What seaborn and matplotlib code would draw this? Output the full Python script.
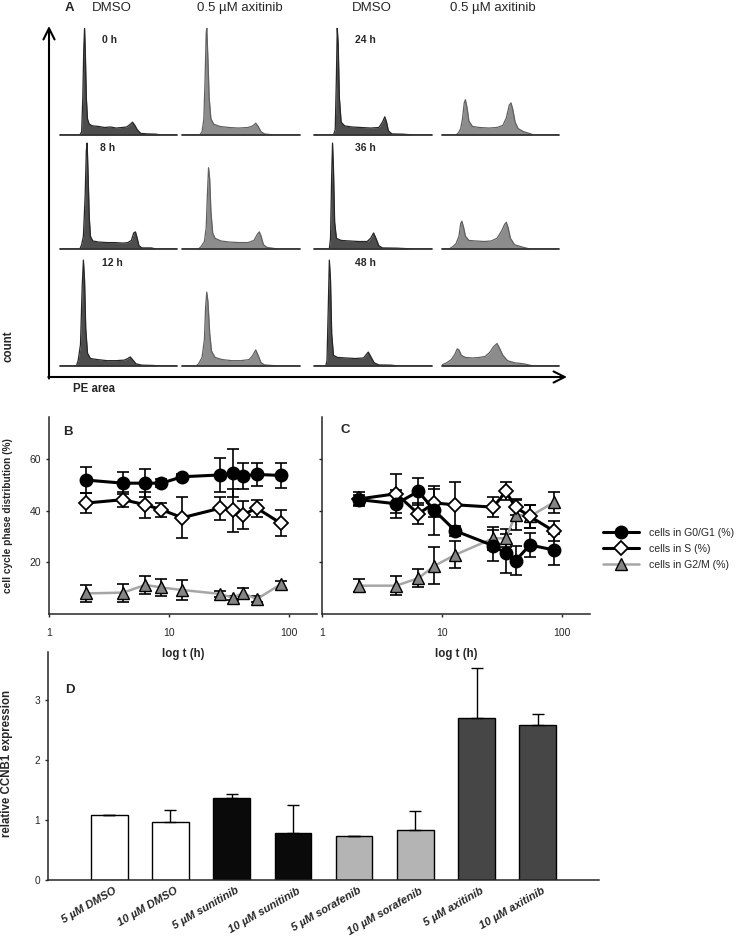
import numpy as np
import pandas as pd
import seaborn as sns
import matplotlib.pyplot as plt
from matplotlib.transforms import ScaledTranslation

W, H = 745, 940

# ---- panel A: flow histograms, outline points (rel. PE area, rel. count)
dmso_0h = [(0, 0), (0.17, 0), (0.185, 0.03), (0.195, 0.35), (0.203, 0.8), (0.21, 1.0), (0.217, 0.75),
           (0.225, 0.35), (0.235, 0.15), (0.25, 0.1), (0.28, 0.085), (0.33, 0.08), (0.38, 0.07),
           (0.43, 0.075), (0.48, 0.065), (0.53, 0.07), (0.57, 0.075), (0.6, 0.1), (0.62, 0.12),
           (0.64, 0.09), (0.66, 0.05), (0.69, 0.015), (0.75, 0.01), (0.82, 0.008), (0.86, 0), (1, 0)]
dmso_8h = [(0, 0), (0.17, 0), (0.185, 0.04), (0.2, 0.12), (0.215, 0.5), (0.225, 0.92), (0.232, 0.99),
           (0.24, 0.7), (0.25, 0.3), (0.26, 0.12), (0.28, 0.075), (0.33, 0.065), (0.4, 0.06),
           (0.47, 0.06), (0.54, 0.055), (0.58, 0.06), (0.61, 0.08), (0.63, 0.15), (0.645, 0.16),
           (0.66, 0.1), (0.675, 0.03), (0.7, 0.01), (0.78, 0.01), (0.82, 0), (1, 0)]
dmso_12h = [(0, 0), (0.14, 0), (0.155, 0.05), (0.175, 0.2), (0.19, 0.75), (0.2, 0.99), (0.21, 0.8),
            (0.22, 0.35), (0.235, 0.12), (0.26, 0.07), (0.32, 0.06), (0.4, 0.05), (0.48, 0.05),
            (0.55, 0.055), (0.58, 0.07), (0.6, 0.085), (0.62, 0.06), (0.65, 0.02), (0.7, 0.008),
            (0.8, 0.005), (0.85, 0), (1, 0)]
dmso_24h = [(0, 0), (0.165, 0), (0.18, 0.05), (0.19, 0.55), (0.197, 1.0), (0.205, 0.85), (0.215, 0.35),
            (0.23, 0.12), (0.26, 0.085), (0.32, 0.075), (0.4, 0.07), (0.48, 0.065), (0.55, 0.07),
            (0.58, 0.12), (0.6, 0.17), (0.615, 0.12), (0.63, 0.04), (0.66, 0.01), (0.75, 0.008),
            (0.85, 0), (1, 0)]
dmso_36h = [(0, 0), (0.13, 0), (0.14, 0.1), (0.15, 0.7), (0.157, 0.99), (0.165, 0.75), (0.175, 0.25),
            (0.19, 0.1), (0.23, 0.08), (0.3, 0.075), (0.38, 0.07), (0.45, 0.07), (0.48, 0.1),
            (0.505, 0.15), (0.525, 0.1), (0.55, 0.03), (0.58, 0.01), (0.7, 0.008), (0.85, 0), (1, 0)]
dmso_48h = [(0, 0), (0.1, 0), (0.11, 0.05), (0.12, 0.5), (0.13, 0.99), (0.14, 0.8), (0.15, 0.3),
            (0.165, 0.1), (0.2, 0.08), (0.27, 0.075), (0.35, 0.07), (0.42, 0.075), (0.445, 0.11),
            (0.46, 0.13), (0.48, 0.09), (0.51, 0.03), (0.55, 0.01), (0.65, 0.008), (0.72, 0), (1, 0)]
axi_0h = [(0, 0), (0.15, 0), (0.17, 0.03), (0.185, 0.15), (0.195, 0.5), (0.205, 0.95), (0.21, 1.0),
          (0.22, 0.7), (0.23, 0.35), (0.245, 0.15), (0.27, 0.1), (0.32, 0.08), (0.4, 0.07),
          (0.48, 0.065), (0.56, 0.07), (0.6, 0.085), (0.625, 0.11), (0.645, 0.08), (0.67, 0.03),
          (0.7, 0.01), (0.78, 0), (1, 0)]
axi_8h = [(0, 0), (0.14, 0), (0.16, 0.02), (0.19, 0.07), (0.205, 0.2), (0.215, 0.5), (0.225, 0.76),
          (0.235, 0.65), (0.245, 0.35), (0.26, 0.15), (0.28, 0.1), (0.33, 0.075), (0.4, 0.065),
          (0.48, 0.06), (0.56, 0.06), (0.61, 0.08), (0.64, 0.14), (0.655, 0.16), (0.67, 0.12),
          (0.69, 0.04), (0.72, 0.015), (0.78, 0.005), (0.82, 0), (1, 0)]
axi_12h = [(0, 0), (0.12, 0), (0.14, 0.02), (0.17, 0.08), (0.19, 0.25), (0.2, 0.55), (0.21, 0.69),
           (0.22, 0.6), (0.235, 0.3), (0.25, 0.14), (0.28, 0.08), (0.34, 0.06), (0.42, 0.05),
           (0.5, 0.05), (0.57, 0.06), (0.6, 0.1), (0.625, 0.15), (0.645, 0.1), (0.67, 0.03),
           (0.7, 0.01), (0.76, 0.005), (0.8, 0), (1, 0)]
axi_24h = [(0, 0), (0.12, 0), (0.14, 0.02), (0.16, 0.06), (0.175, 0.15), (0.19, 0.3), (0.2, 0.33),
           (0.215, 0.25), (0.23, 0.13), (0.26, 0.08), (0.32, 0.07), (0.4, 0.065), (0.47, 0.07),
           (0.52, 0.09), (0.55, 0.16), (0.575, 0.28), (0.59, 0.3), (0.605, 0.24), (0.625, 0.12),
           (0.65, 0.06), (0.7, 0.03), (0.76, 0.01), (0.78, 0), (1, 0)]
axi_36h = [(0, 0), (0.06, 0), (0.09, 0.02), (0.12, 0.05), (0.145, 0.12), (0.16, 0.24), (0.17, 0.26),
           (0.185, 0.2), (0.2, 0.12), (0.23, 0.08), (0.29, 0.075), (0.36, 0.07), (0.42, 0.075),
           (0.47, 0.1), (0.51, 0.17), (0.535, 0.23), (0.55, 0.25), (0.565, 0.2), (0.585, 0.1),
           (0.62, 0.04), (0.68, 0.02), (0.75, 0), (1, 0)]
axi_48h = [(0, 0.01), (0.04, 0.03), (0.08, 0.06), (0.11, 0.11), (0.13, 0.16), (0.145, 0.15),
           (0.165, 0.1), (0.2, 0.08), (0.26, 0.075), (0.32, 0.08), (0.37, 0.09), (0.41, 0.13),
           (0.44, 0.18), (0.47, 0.21), (0.49, 0.17), (0.52, 0.1), (0.56, 0.05), (0.62, 0.03),
           (0.7, 0.02), (0.78, 0), (1, 0)]

col_titles = ['DMSO', '0.5 µM axitinib', 'DMSO', '0.5 µM axitinib']
time_labels = ['0 h', '8 h', '12 h', '24 h', '36 h', '48 h']

# ---- panels B and C: time course (h) with mean and SD (%)
t_hours = [2.05, 4.15, 6.35, 8.65, 12.9, 26.8, 34, 41, 54, 85]
g1_b = [52, 50.8, 50.8, 50.8, 53.3, 54, 54.6, 53.6, 54.2, 53.8]
g1_b_sd = [5, 4.3, 5.5, 1.5, 1, 6.5, 9.3, 5, 4.6, 4.8]
s_b = [43.1, 44.4, 42.4, 40.5, 37.4, 41.1, 40.2, 38.5, 41.1, 35.3]
s_b_sd = [3.8, 3, 5, 2.7, 8, 4.5, 8.3, 5.3, 3.3, 5]
g2_b = [8.0, 8.3, 11.3, 10.3, 9.3, 7.8, 6.3, 8.1, 5.8, 11.5]
g2_b_sd = [3.3, 3.5, 3.4, 3.2, 3.9, 1.3, 0.8, 2.1, 1.3, 1.3]

g1_c = [44.4, 42.8, 47.6, 40.2, 32.3, 26.5, 23.6, 20.7, 26.8, 24.9]
g1_c_sd = [2, 5.5, 5.4, 9.4, 2, 6, 7.5, 5.6, 4.5, 6]
s_c = [44.7, 46.7, 38.9, 43.1, 42.4, 41.5, 47.6, 41.5, 37.9, 32.3]
s_c_sd = [2.8, 7.6, 4.1, 5.5, 9, 4, 3.5, 3, 4.5, 3.8]
g2_c = [11.0, 11.0, 13.9, 18.7, 23.0, 29.4, 29.4, 38.5, 37.9, 43.3]
g2_c_sd = [2.6, 3.7, 3.6, 7.2, 5.2, 4.5, 3.5, 5.7, 4.5, 4.2]

series_labels = ['cells in G0/G1 (%)', 'cells in S (%)', 'cells in G2/M (%)']

# ---- panel D: relative CCNB1 expression
treatments = ['5 µM DMSO', '10 µM DMSO', '5 µM sunitinib', '10 µM sunitinib',
              '5 µM sorafenib', '10 µM sorafenib', '5 µM axitinib', '10 µM axitinib']
ccnb1 = [1.08, 0.96, 1.37, 0.78, 0.73, 0.83, 2.70, 2.59]
ccnb1_err = [0, 0.21, 0.06, 0.47, 0.01, 0.32, 0.83, 0.17]
bar_colors = ['white', 'white', '#0a0a0a', '#0a0a0a', '#b4b4b4', '#b4b4b4', '#464646', '#464646']

sns.set_theme(style='ticks')
plt.rcParams['font.family'] = ['Liberation Sans', 'DejaVu Sans']
plt.rcParams['axes.linewidth'] = 1.1

fig = plt.figure(figsize=(W / 100, H / 100), dpi=100)


def box(x0, y0, x1, y1):
    return [x0 / W, 1 - y1 / H, (x1 - x0) / W, (y1 - y0) / H]


def ftext(x, y, s, **kw):
    fig.text(x / W, 1 - y / H, s, ha=kw.pop('ha', 'center'), va=kw.pop('va', 'center'), **kw)


# arrows of panel A
over = fig.add_axes([0, 0, 1, 1])
over.set_xlim(0, W)
over.set_ylim(H, 0)
over.axis('off')
over.annotate('', xy=(49, 26), xytext=(49, 378.5),
              arrowprops=dict(arrowstyle='->', lw=1.5, color='black', mutation_scale=20, shrinkA=0, shrinkB=0))
over.annotate('', xy=(567, 377), xytext=(48.3, 377),
              arrowprops=dict(arrowstyle='->', lw=1.5, color='black', mutation_scale=20, shrinkA=0, shrinkB=0))

hist_grid = [[dmso_0h, axi_0h, dmso_24h, axi_24h],
             [dmso_8h, axi_8h, dmso_36h, axi_36h],
             [dmso_12h, axi_12h, dmso_48h, axi_48h]]
col_x = [(60, 177), (182, 300), (314, 432), (442, 559)]
row_y = [(28, 135), (142, 249), (259, 366)]
fills = ['#4d4d4d', '#8c8c8c', '#4d4d4d', '#8c8c8c']
edges = ['#262626', '#606060', '#262626', '#606060']

for r, (y0, y1) in enumerate(row_y):
    for c, (x0, x1) in enumerate(col_x):
        ax = fig.add_axes(box(x0, y0, x1, y1))
        prof = hist_grid[r][c]
        xs = [p[0] for p in prof]
        ys = [p[1] for p in prof]
        ax.fill_between(xs, ys, 0, color=fills[c], lw=0)
        ax.plot(xs, ys, color=edges[c], lw=0.9)
        ax.axhline(0, color='#333333', lw=1.3, clip_on=False)
        ax.set_xlim(0, 1)
        ax.set_ylim(0, 1)
        ax.axis('off')

ftext(69, 8, 'A', fontsize=9.5, fontweight='bold')
for x, s in zip([112, 240, 372, 493], col_titles):
    ftext(x, 8, s, fontsize=9.5)
for (x, y), s in zip([(110, 40), (108, 148), (112, 263), (365, 40), (365, 148), (365, 263)], time_labels):
    ftext(x, y, s, fontsize=7.5, fontweight='bold')
ftext(9, 346, 'count', fontsize=8.3, fontweight='bold', rotation=90)
ftext(94, 389, 'PE area', fontsize=8.3, fontweight='bold')


# ---- panels B and C
def time_panel(ax, g1, g1_sd, s, s_sd, g2, g2_sd):
    err_kw = dict(fmt='none', ecolor='black', elinewidth=1.2, capsize=4.5, capthick=1.2)
    ax.errorbar(t_hours, g2, yerr=g2_sd, zorder=2, **err_kw)
    ax.errorbar(t_hours, s, yerr=s_sd, zorder=2, **err_kw)
    ax.errorbar(t_hours, g1, yerr=g1_sd, zorder=2, **err_kw)
    df = pd.DataFrame({'t': t_hours, 'g1': g1, 's': s, 'g2': g2})
    sns.lineplot(data=df, x='t', y='g2', ax=ax, color='#a6a6a6', lw=1.8, marker='^', ms=9,
                 markerfacecolor='#858585', markeredgecolor='black', markeredgewidth=1,
                 label=series_labels[2], zorder=3)
    sns.lineplot(data=df, x='t', y='s', ax=ax, color='black', lw=2.2, marker='D', ms=7.5,
                 markerfacecolor='white', markeredgecolor='black', markeredgewidth=1.3,
                 label=series_labels[1], zorder=4)
    sns.lineplot(data=df, x='t', y='g1', ax=ax, color='black', lw=2.2, marker='o', ms=9,
                 markerfacecolor='black', markeredgecolor='black', markeredgewidth=1,
                 label=series_labels[0], zorder=5)
    ax.set_xscale('log')
    ax.set_xlim(1, 10 ** (268 / 120))
    ax.set_ylim(0, 76.5)
    ax.set_xticks([1, 10, 100])
    ax.set_xticklabels(['1', '10', '100'])
    ax.minorticks_off()
    ax.set_yticks([20, 40, 60])
    ax.tick_params(axis='x', length=2.5, width=1, pad=7.5, labelsize=7.5)
    ax.tick_params(axis='y', length=2.5, width=1, pad=3, labelsize=7.5)
    ax.set_xlabel('log t (h)', fontsize=8.3, fontweight='bold', labelpad=7)
    ax.set_ylabel('')
    sns.despine(ax=ax)
    ax.set_facecolor('none')


ax_b = fig.add_axes(box(49, 417, 317, 614))
time_panel(ax_b, g1_b, g1_b_sd, s_b, s_b_sd, g2_b, g2_b_sd)
ax_b.set_ylabel('cell cycle phase distribution (%)', fontsize=7.3, fontweight='bold')
ax_b.yaxis.set_label_coords(-0.135, 0.5)
ax_b.get_legend().remove()

ax_c = fig.add_axes(box(322, 417, 590, 614))
time_panel(ax_c, g1_c, g1_c_sd, s_c, s_c_sd, g2_c, g2_c_sd)
ax_c.set_yticklabels([])
handles, labels = ax_c.get_legend_handles_labels()
ax_c.get_legend().remove()
order = [labels.index(l) for l in series_labels]
fig.legend([handles[i] for i in order], series_labels, loc='upper left',
           bbox_to_anchor=(603 / W, 1 - 528 / H), frameon=False, fontsize=7.6,
           handlelength=3.4, labelspacing=0.55, handletextpad=1.0, borderaxespad=0, borderpad=0)

ftext(68, 432, 'B', fontsize=9.5, fontweight='bold')
ftext(345, 430, 'C', fontsize=9.5, fontweight='bold')

# ---- panel D
ax_d = fig.add_axes(box(48, 652, 599, 880))
sns.barplot(x=treatments, y=ccnb1, hue=treatments, palette=bar_colors, legend=False,
            width=0.6, edgecolor='black', linewidth=1, ax=ax_d)
ax_d.errorbar(range(len(treatments)), ccnb1, yerr=[np.zeros(len(ccnb1)), ccnb1_err],
              fmt='none', ecolor='black', elinewidth=1, capsize=4, capthick=1)
ax_d.set_xlim(-1.0, 8.0)
ax_d.set_ylim(0, 3.8)
ax_d.set_yticks([0, 1, 2, 3])
ax_d.tick_params(axis='y', length=2.5, width=1, pad=3, labelsize=7.3)
ax_d.tick_params(axis='x', length=0, pad=4)
ax_d.set_xticks(range(len(treatments)))
ax_d.set_xticklabels(treatments, rotation=30, ha='right', rotation_mode='anchor',
                     fontsize=8, fontweight='bold', fontstyle='italic')
shift = ScaledTranslation(0.04, 0, fig.dpi_scale_trans)
for lab in ax_d.get_xticklabels():
    lab.set_transform(lab.get_transform() + shift)
ax_d.set_ylabel('relative CCNB1 expression', fontsize=8.3, fontweight='bold')
ax_d.yaxis.set_label_coords(-0.064, 0.51)
ax_d.set_xlabel('')
sns.despine(ax=ax_d)
ax_d.set_facecolor('none')
ftext(70, 690, 'D', fontsize=9.5, fontweight='bold')

fig.savefig('out.png', dpi=100)
